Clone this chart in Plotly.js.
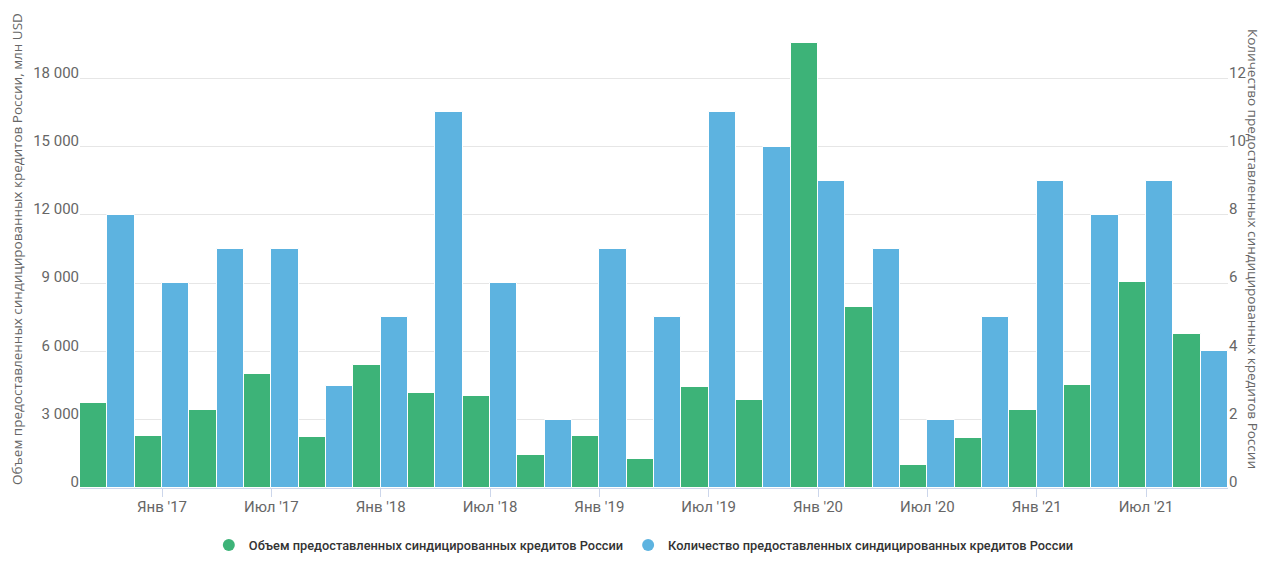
<!DOCTYPE html>
<html>
<head>
<meta charset="utf-8">
<script src="https://cdn.plot.ly/plotly-3.0.1.min.js"></script>
<style>
  html, body { margin: 0; padding: 0; background: #ffffff; }
  #chart { width: 1280px; height: 577px; }
</style>
</head>
<body>
<div id="chart"></div>
<script>
// Quarters (categories)
const quarters = [
  "Окт '16", "Янв '17", "Апр '17", "Июл '17", "Окт '17",
  "Янв '18", "Апр '18", "Июл '18", "Окт '18",
  "Янв '19", "Апр '19", "Июл '19", "Окт '19",
  "Янв '20", "Апр '20", "Июл '20", "Окт '20",
  "Янв '21", "Апр '21", "Июл '21", "Окт '21"
];

// Volume of syndicated loans, mln USD (left axis)
const volume = [
  3750, 2290, 3410, 5010, 2230,
  5400, 4160, 4050, 1470,
  2290, 1290, 4440, 3850,
  19550, 7960, 1000, 2190,
  3430, 4540, 9060, 6760
];

// Number of syndicated loans (right axis)
const count = [
  8, 6, 7, 7, 3,
  5, 11, 6, 2,
  7, 5, 11, 10,
  9, 7, 2, 5,
  9, 8, 9, 4
];

// X tick labels
const xTickVals = ["Янв '17", "Июл '17", "Янв '18", "Июл '18", "Янв '19", "Июл '19", "Янв '20", "Июл '20", "Янв '21", "Июл '21"];
const xTickText = ["Янв '17", "Июл '17", "Янв '18", "Июл '18", "Янв '19", "Июл '19", "Янв '20", "Июл '20", "Янв '21", "Июл '21"];

// Y tick labels
const yLeftVals = [0, 3000, 6000, 9000, 12000, 15000, 18000, 21000];
const yLeftText = ["0", "3 000", "6 000", "9 000", "12 000", "15 000", "18 000", ""];
const yRightVals = [0, 2, 4, 6, 8, 10, 12, 14];
const yRightText = ["0", "2", "4", "6", "8", "10", "12", ""];

const nameVolume = "Объем предоставленных синдицированных кредитов России";
const nameCount = "Количество предоставленных синдицированных кредитов России";
const titleLeft = "Объем предоставленных синдицированных кредитов России, млн USD";
const titleRight = "Количество предоставленных синдицированных кредитов России";

const green = "#3db378";
const blue = "#5db3e0";
const tickFont = { family: "Roboto, sans-serif", size: 15, color: "#666666" };
const titleFont = { family: "'Open Sans', sans-serif", size: 13.5, color: "#666666" };

const traces = [
  {
    type: "bar", x: quarters, y: volume, name: nameVolume, yaxis: "y",
    marker: { color: green, line: { color: "#ffffff", width: 1 } },
    width: 0.5, offset: -0.5, offsetgroup: "a", showlegend: false,
    hovertemplate: "%{x}: %{y}<extra></extra>"
  },
  {
    type: "bar", x: quarters, y: count, name: nameCount, yaxis: "y2",
    marker: { color: blue, line: { color: "#ffffff", width: 1 } },
    width: 0.5, offset: 0, offsetgroup: "b", showlegend: false,
    hovertemplate: "%{x}: %{y}<extra></extra>"
  },
  {
    type: "scatter", mode: "markers", x: [null], y: [null], name: nameVolume,
    marker: { color: green, size: 12, symbol: "circle" }, showlegend: true, hoverinfo: "skip"
  },
  {
    type: "scatter", mode: "markers", x: [null], y: [null], name: nameCount,
    marker: { color: blue, size: 12, symbol: "circle" }, showlegend: true, hoverinfo: "skip"
  }
];

const layout = {
  width: 1280, height: 577,
  margin: { l: 80, r: 52, t: 10, b: 89 },
  paper_bgcolor: "#ffffff", plot_bgcolor: "#ffffff",
  bargap: 0, bargroupgap: 0,
  showlegend: true,
  legend: {
    orientation: "h", xref: "container", x: 0.503, xanchor: "center",
    yref: "container", y: 0.055, yanchor: "middle",
    font: { family: "Roboto, sans-serif", size: 12.8, color: "#333333", weight: 500 },
    itemsizing: "constant", itemwidth: 30
  },
  xaxis: {
    type: "category", categoryorder: "array", categoryarray: quarters,
    range: [-0.5, 20.5],
    tickmode: "array", tickvals: xTickVals, ticktext: xTickText,
    ticks: "outside", ticklen: 8, tickcolor: "#ccd6eb", tickwidth: 1,
    showline: true, linecolor: "#ccd6eb", linewidth: 1,
    showgrid: false, zeroline: false,
    tickfont: tickFont, ticklabelstandoff: -3, fixedrange: true
  },
  yaxis: {
    range: [0, 21000],
    tickmode: "array", tickvals: yLeftVals, ticktext: yLeftText,
    showgrid: true, gridcolor: "#e6e6e6", gridwidth: 1,
    zeroline: false, showline: false,
    tickfont: tickFont, ticklabelshift: -6, ticklabelstandoff: 0,
    fixedrange: true
  },
  yaxis2: {
    range: [0, 14], overlaying: "y", side: "right",
    tickmode: "array", tickvals: yRightVals, ticktext: yRightText,
    showgrid: false, zeroline: false, showline: false,
    tickfont: tickFont, ticklabelshift: -6, ticklabelstandoff: 0,
    fixedrange: true
  },
  annotations: [
    {
      text: titleLeft, xref: "paper", yref: "paper",
      x: -0.0549, y: 0.5, xanchor: "center", yanchor: "middle",
      textangle: -90, showarrow: false, font: titleFont
    },
    {
      text: titleRight, xref: "paper", yref: "paper",
      x: 1.0218, y: 0.5, xanchor: "center", yanchor: "middle",
      textangle: 90, showarrow: false, font: titleFont
    }
  ]
};

Plotly.newPlot("chart", traces, layout, { displayModeBar: false, staticPlot: false });
</script>
</body>
</html>
